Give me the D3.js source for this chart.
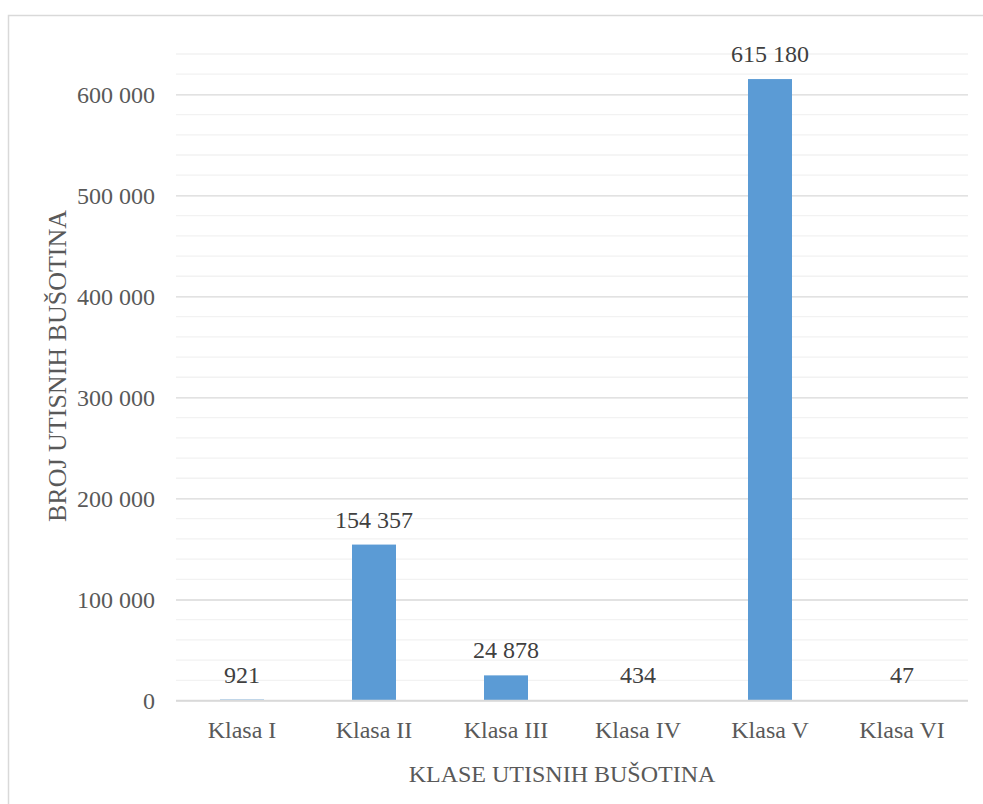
<!DOCTYPE html>
<html>
<head>
<meta charset="utf-8">
<script src="https://cdn.jsdelivr.net/npm/d3@7"></script>
<style>
  body { margin: 0; background: #fff; }
  svg text { font-family: "Liberation Serif", "Times New Roman", Times, serif !important; }
</style>
</head>
<body>
<div id="chart"></div>
<script>
const categories = ['Klasa I', 'Klasa II', 'Klasa III', 'Klasa IV', 'Klasa V', 'Klasa VI'];
const values = [921, 154357, 24878, 434, 615180, 47];
const majorTicks = [0, 100000, 200000, 300000, 400000, 500000, 600000];
const yMax = 640000;

const width = 983, height = 804;
const plot = { left: 176, right: 968, top: 54, bottom: 700.5 };
const serif = '"Liberation Serif", "Times New Roman", Times, serif';

const svg = d3.select('#chart').append('svg')
  .attr('width', width)
  .attr('height', height);

// chart border (runs off the right and bottom edges)
svg.append('rect')
  .attr('x', 8.5).attr('y', 15.5)
  .attr('width', 1000).attr('height', 1000)
  .attr('fill', '#fff')
  .attr('stroke', '#d9d9d9')
  .attr('stroke-width', 1.5);

const x = d3.scaleBand()
  .domain(categories)
  .range([plot.left, plot.right])
  .paddingInner(2 / 3)
  .paddingOuter(1 / 3);

const y = d3.scaleLinear()
  .domain([0, yMax])
  .range([plot.bottom, plot.top]);

const fmt = v => d3.format(',')(v).replace(/,/g, ' ');

// minor gridlines
const minor = d3.range(20000, yMax + 1, 20000).filter(v => v % 100000 !== 0);
svg.append('g').selectAll('line')
  .data(minor)
  .join('line')
  .attr('x1', plot.left).attr('x2', plot.right)
  .attr('y1', d => y(d)).attr('y2', d => y(d))
  .attr('stroke', '#f2f2f2')
  .attr('stroke-width', 1.3);

// major gridlines + labels via axis
const yAxis = svg.append('g')
  .attr('transform', `translate(${plot.left},0)`)
  .call(d3.axisLeft(y).tickValues(majorTicks).tickFormat(fmt)
    .tickSize(-(plot.right - plot.left)).tickPadding(21))
  .attr('font-family', serif);
yAxis.select('.domain').remove();
yAxis.selectAll('.tick line').attr('stroke', '#d9d9d9').attr('stroke-width', 1.3);
yAxis.selectAll('.tick text')
  .attr('fill', '#595959')
  .attr('font-size', 24)
  .style('font-family', serif);

// bars
svg.append('g').selectAll('rect')
  .data(values)
  .join('rect')
  .attr('x', (d, i) => x(categories[i]))
  .attr('width', x.bandwidth())
  .attr('y', d => y(d))
  .attr('height', d => y(0) - y(d))
  .attr('fill', '#5b9bd5');

// baseline
svg.append('line')
  .attr('x1', plot.left).attr('x2', plot.right)
  .attr('y1', y(0)).attr('y2', y(0))
  .attr('stroke', '#d9d9d9')
  .attr('stroke-width', 1.5);

// data labels
svg.append('g').selectAll('text')
  .data(values)
  .join('text')
  .attr('x', (d, i) => x(categories[i]) + x.bandwidth() / 2)
  .attr('y', d => y(d) - 17)
  .attr('text-anchor', 'middle')
  .attr('font-size', 24)
  .attr('fill', '#404040')
  .style('font-family', serif)
  .text(fmt);

// category labels
const xAxis = svg.append('g')
  .attr('transform', `translate(0,${plot.bottom})`)
  .call(d3.axisBottom(x).tickSize(0).tickPadding(20))
  .attr('font-family', serif);
xAxis.select('.domain').remove();
xAxis.selectAll('.tick text')
  .attr('fill', '#595959')
  .attr('font-size', 24)
  .style('font-family', serif);

// axis titles
svg.append('text')
  .attr('x', 562).attr('y', 782)
  .attr('text-anchor', 'middle')
  .attr('font-size', 24)
  .attr('fill', '#595959')
  .style('font-family', serif)
  .text('KLASE UTISNIH BUŠOTINA');

svg.append('text')
  .attr('transform', 'translate(66,366) rotate(-90)')
  .attr('text-anchor', 'middle')
  .attr('font-size', 26)
  .attr('fill', '#595959')
  .style('font-family', serif)
  .text('BROJ UTISNIH BUŠOTINA');
</script>
</body>
</html>
